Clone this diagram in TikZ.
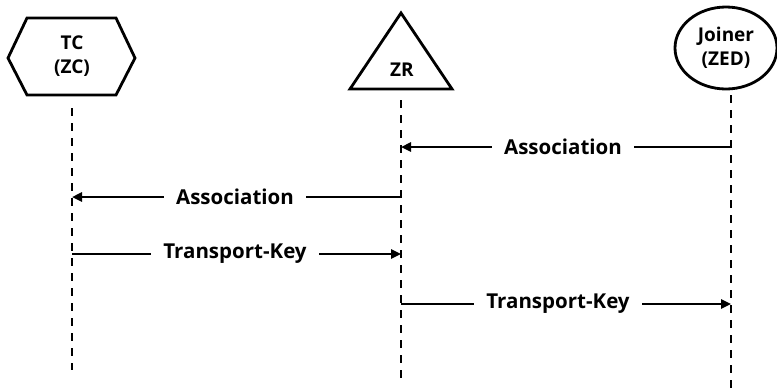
\documentclass[tikz,border=0pt]{standalone}
\usepackage{fontspec}
\setmainfont{Open Sans}
\usetikzlibrary{arrows.meta,shapes.geometric}
\begin{document}
\begin{tikzpicture}[x=1pt,y=-1pt,
  actorfont/.style={font=\bfseries\fontsize{19}{24}\selectfont,align=center},
  outline/.style={line width=2.8pt,line join=miter},
  lifeline/.style={line width=1.4pt,dash pattern=on 8pt off 7pt},
  msg/.style={line width=2.4pt,-{Triangle[length=10pt,width=9pt]}},
  msglabel/.style={fill=white,inner xsep=12pt,inner ysep=2pt,font=\bfseries\fontsize{20.5}{24}\selectfont}]
\useasboundingbox (0,0) rectangle (777,389);
% participants
\draw[outline] (8,58) -- (27,18) -- (116,18) -- (135,58) -- (116,95) -- (27,95) -- cycle;
\node[actorfont] (tc) at (72,56) {TC\\(ZC)};
\draw[outline] (401,13) -- (452,89) -- (350,89) -- cycle;
\node[actorfont] (zr) at (402,70) {ZR};
\node[actorfont,draw=black,line width=2.8pt,fill=white,ellipse,minimum width=102pt,minimum height=82pt,inner sep=0pt] (jn) at (726,48) {Joiner\\(ZED)};
% lifelines
\coordinate (tcT) at (72,108);  \coordinate (tcB) at (72,370);
\coordinate (zrT) at (401,100); \coordinate (zrB) at (401,378);
\coordinate (jnT) at (731,95);  \coordinate (jnB) at (731,389);
\draw[lifeline] (tcT) -- (tcB);
\draw[lifeline] (zrT) -- (zrB);
\draw[lifeline] (jnT) -- (jnB);
% messages
\coordinate (z1) at (401,147); \coordinate (j1) at (731,147);
\coordinate (t2) at (72,197);  \coordinate (z2) at (401,197);
\coordinate (t3) at (72,254);  \coordinate (z3) at (401,254);
\coordinate (z4) at (401,304); \coordinate (j4) at (731,304);
\draw[msg] (j1) -- (z1);
\draw[msg] (z2) -- (t2);
\draw[msg] (t3) -- (z3);
\draw[msg] (z4) -- (j4);
\node[msglabel] (m1) at (563,147) {Association};
\node[msglabel] (m2) at (235,197) {Association};
\node[msglabel] (m3) at (235,254) {Transport-Key};
\node[msglabel] (m4) at (558,304) {Transport-Key};
\end{tikzpicture}
\end{document}
